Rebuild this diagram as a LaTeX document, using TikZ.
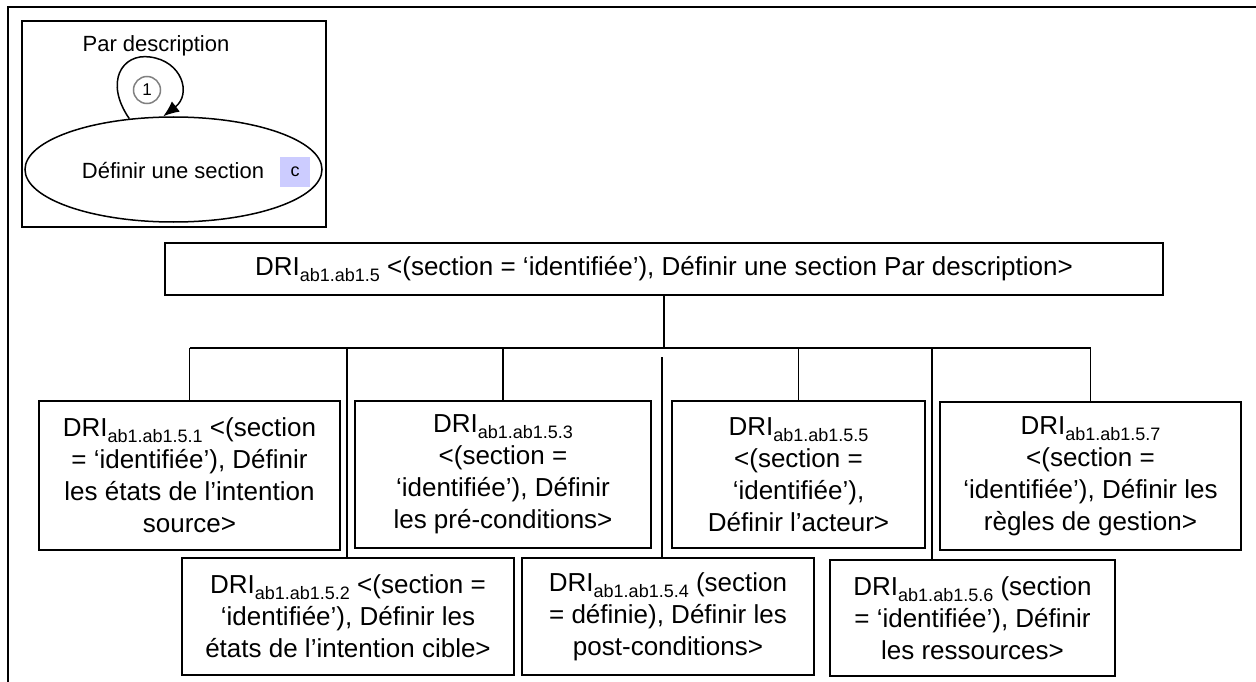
\documentclass[tikz,border=0pt]{standalone}
\usepackage{fontspec}
\setmainfont{Liberation Sans}
\usepackage{tikz}
\usetikzlibrary{shapes.geometric}
\usetikzlibrary{calc}
\usetikzlibrary{arrows.meta, shapes, positioning}

\definecolor{tagblue}{RGB}{204,204,255}
\newcommand{\dri}[1]{DRI\raisebox{-6pt}{\fontsize{18}{20}\selectfont #1}}

\begin{document}
\begin{tikzpicture}[
			x=1pt, y=-1pt,
			line width=1.5pt,
			drinode/.style={
					draw,
					inner sep=0pt,
					align=center,
					font=\fontsize{26}{32}\selectfont
				},
			small/.style={
					font=\fontsize{22}{26}\selectfont
				}
		]
		\useasboundingbox (0,0) rectangle (1256,682);

		% page frame
		\draw[line width=2.5pt] (1256,7) -- (8,7) -- (8,682);

		% intention map
		\draw[line width=2.4pt] (22,21) rectangle (326,227);
		\node[draw, ellipse, minimum width=297pt, minimum height=105pt] (ell) at (173.5,169.5) {};
		\node[small] (sect) at (173,171) {Définir une section};
		\node[small] (par) at (156,46) {Par description};
		\node[fill=tagblue, minimum size=30pt, inner sep=0pt,
			font=\fontsize{18}{20}\selectfont] (tag) at (295,172) {c};
		\draw[-{Latex[length=16pt,width=13pt]}]
		(ell.131) .. controls (104,82) and (122,53) .. (150,57)
		.. controls (182,61) and (192,94) .. (ell.101);
		\node[draw=gray, circle, minimum size=27pt, inner sep=0pt,
			font=\fontsize{17}{20}\selectfont] (num) at (147,90) {1};

		% root
		\node[drinode, minimum width=998pt, minimum height=52pt] (main) at (664,269)
		{\dri{ab1.ab1.5} <(section = ‘identifiée’), Définir une section Par description>};

		% children
		\node[drinode, minimum width=301pt, minimum height=149pt] (c1) at (189.5,475.5)
		{\dri{ab1.ab1.5.1} <(section\\= ‘identifiée’), Définir\\les états de l’intention\\source>};
		\node[drinode, minimum width=332pt, minimum height=117pt] (c2) at (348,616.5)
		{\dri{ab1.ab1.5.2} <(section =\\‘identifiée’), Définir les\\états de l’intention cible>};
		\node[drinode, minimum width=296pt, minimum height=147pt] (c3) at (503,474.5)
		{\dri{ab1.ab1.5.3}\\<(section =\\‘identifiée’), Définir\\les pré-conditions>};
		\node[drinode, minimum width=292pt, minimum height=117pt] (c4) at (668,616.5)
		{\dri{ab1.ab1.5.4} (section\\= définie), Définir les\\post-conditions>};
		\node[drinode, minimum width=253pt, minimum height=147pt] (c5) at (798.5,474.5)
		{\dri{ab1.ab1.5.5}\\<(section =\\‘identifiée’),\\Définir l’acteur>};
		\node[drinode, minimum width=285pt, minimum height=116pt] (c6) at (972.5,618)
		{\dri{ab1.ab1.5.6} (section\\= ‘identifiée’), Définir\\les ressources>};
		\node[drinode, minimum width=301pt, minimum height=148pt] (c7) at (1090.5,476)
		{\dri{ab1.ab1.5.7}\\<(section =\\‘identifiée’), Définir les\\règles de gestion>};

		% tree lines
		\coordinate (top) at (main.south |- 0,348);
		\coordinate (b1) at (c1.north |- top);
		\coordinate (b2) at (347,348);
		\coordinate (b3) at (c3.north |- top);
		\coordinate (b4) at (662,357);
		\coordinate (b5) at (c5.north |- top);
		\coordinate (b6) at (932,348);
		\coordinate (b7) at (c7.north |- top);

		\draw (main.south) -- (top);
		\draw (b1) -- (b7);
		\draw (b1) -- (c1.north);
		\draw (b2) -- (b2 |- c2.north);
		\draw (b3) -- (c3.north);
		\draw (b4) -- (b4 |- c4.north);
		\draw (b5) -- (c5.north);
		\draw (b6) -- (b6 |- c6.north);
		\draw (b7) -- (c7.north);
	\end{tikzpicture}
\end{document}
